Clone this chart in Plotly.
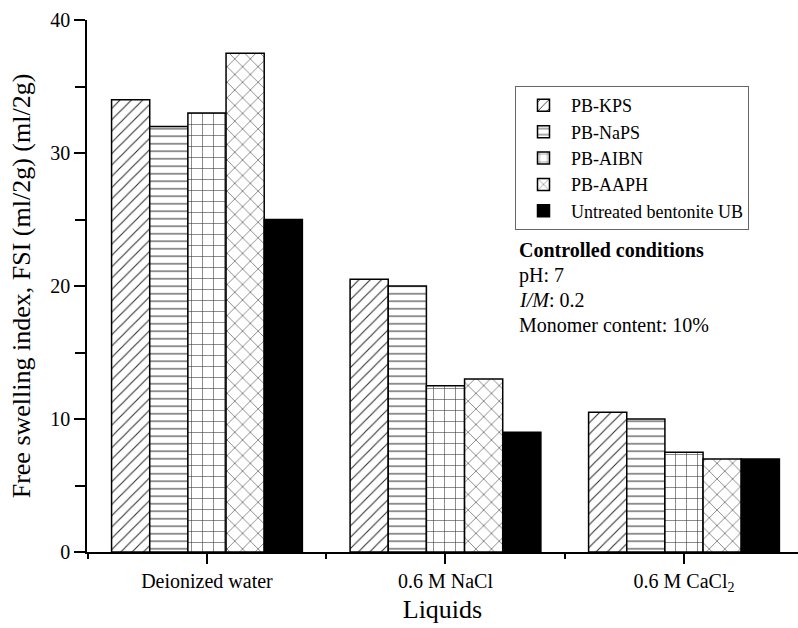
import plotly.graph_objects as go

liquids = ["Deionized water", "0.6 M NaCl", "0.6 M CaCl<sub>2</sub>"]
series_names = ["PB-KPS", "PB-NaPS", "PB-AIBN", "PB-AAPH", "Untreated bentonite UB"]
pb_kps = [34.0, 20.5, 10.5]
pb_naps = [32.0, 20.0, 10.0]
pb_aibn = [33.0, 12.5, 7.5]
pb_aaph = [37.5, 13.0, 7.0]
untreated_ub = [25.0, 9.0, 7.0]
y_ticks = [0, 10, 20, 30, 40]

series_values = [pb_kps, pb_naps, pb_aibn, pb_aaph, untreated_ub]
patterns = [
    dict(shape="/", size=8, solidity=0.14),
    dict(shape="-", size=7.5, solidity=0.14),
    dict(shape="+", size=11, solidity=0.1),
    dict(shape="x", size=11, solidity=0.1),
    None,
]

FONT = "Liberation Serif, Times New Roman, serif"
xpos = list(range(len(liquids)))

fig = go.Figure()
for name, vals, pat in zip(series_names, series_values, patterns):
    if pat is None:
        marker = dict(color="black", line=dict(color="black", width=1.5))
    else:
        marker = dict(
            color="white",
            line=dict(color="black", width=1.5),
            pattern=dict(shape=pat["shape"], size=pat["size"], solidity=pat["solidity"],
                         fgcolor="#333333", bgcolor="white", fillmode="replace"),
        )
    fig.add_trace(go.Bar(x=xpos, y=vals, name=name, marker=marker))

fig.update_layout(
    width=798, height=628,
    margin=dict(l=87, r=0, t=20, b=76),
    paper_bgcolor="white", plot_bgcolor="white",
    barmode="group", bargap=0.2, bargroupgap=0,
    font=dict(family=FONT, color="black", size=20),
    showlegend=True,
    legend=dict(
        x=(515 - 87) / 711, y=(551.7 - 86) / 531.7, xanchor="left", yanchor="top",
        bordercolor="#666666", borderwidth=1, bgcolor="white",
        font=dict(family=FONT, size=18, color="black"),
        itemwidth=45,
        tracegroupgap=0,
    ),
)

fig.update_xaxes(
    range=[-0.503, 2.478],
    tickmode="array", tickvals=xpos, ticktext=liquids,
    ticks="outside", ticklen=10, tickwidth=1.5, tickcolor="black",
    minor=dict(tickmode="array", tickvals=[-0.5, 0.5, 1.5, 2.5], ticks="outside",
               ticklen=5, tickwidth=1.5, tickcolor="black"),
    showline=True, linecolor="black", linewidth=1.5,
    showgrid=False, zeroline=False,
    tickfont=dict(family=FONT, size=20),
    title=dict(text="Liquids", font=dict(family=FONT, size=26), standoff=6),
)

fig.update_yaxes(
    range=[0, 40],
    tickmode="array", tickvals=y_ticks,
    ticks="outside", ticklen=11, tickwidth=1.5, tickcolor="black",
    minor=dict(tickmode="array", tickvals=[5, 15, 25, 35], ticks="outside",
               ticklen=10, tickwidth=1.5, tickcolor="black"),
    showline=True, linecolor="black", linewidth=1.5,
    showgrid=False, zeroline=False,
    tickfont=dict(family=FONT, size=20),
    title=dict(text="Free swelling index, FSI (ml/2g) (ml/2g)",
               font=dict(family=FONT, size=26), standoff=12),
)

notes = [
    ("<b>Controlled conditions</b>", 250),
    ("pH: 7", 275),
    ("<i>I/M</i>: 0.2", 300),
    ("Monomer content: 10%", 325),
]
for txt, ypix in notes:
    fig.add_annotation(
        text=txt, xref="paper", yref="paper",
        x=(517 - 87) / 711, y=(551.7 - ypix) / 531.7,
        xanchor="left", yanchor="middle", showarrow=False,
        font=dict(family=FONT, size=20, color="black"),
    )

fig.write_html("out.html")
